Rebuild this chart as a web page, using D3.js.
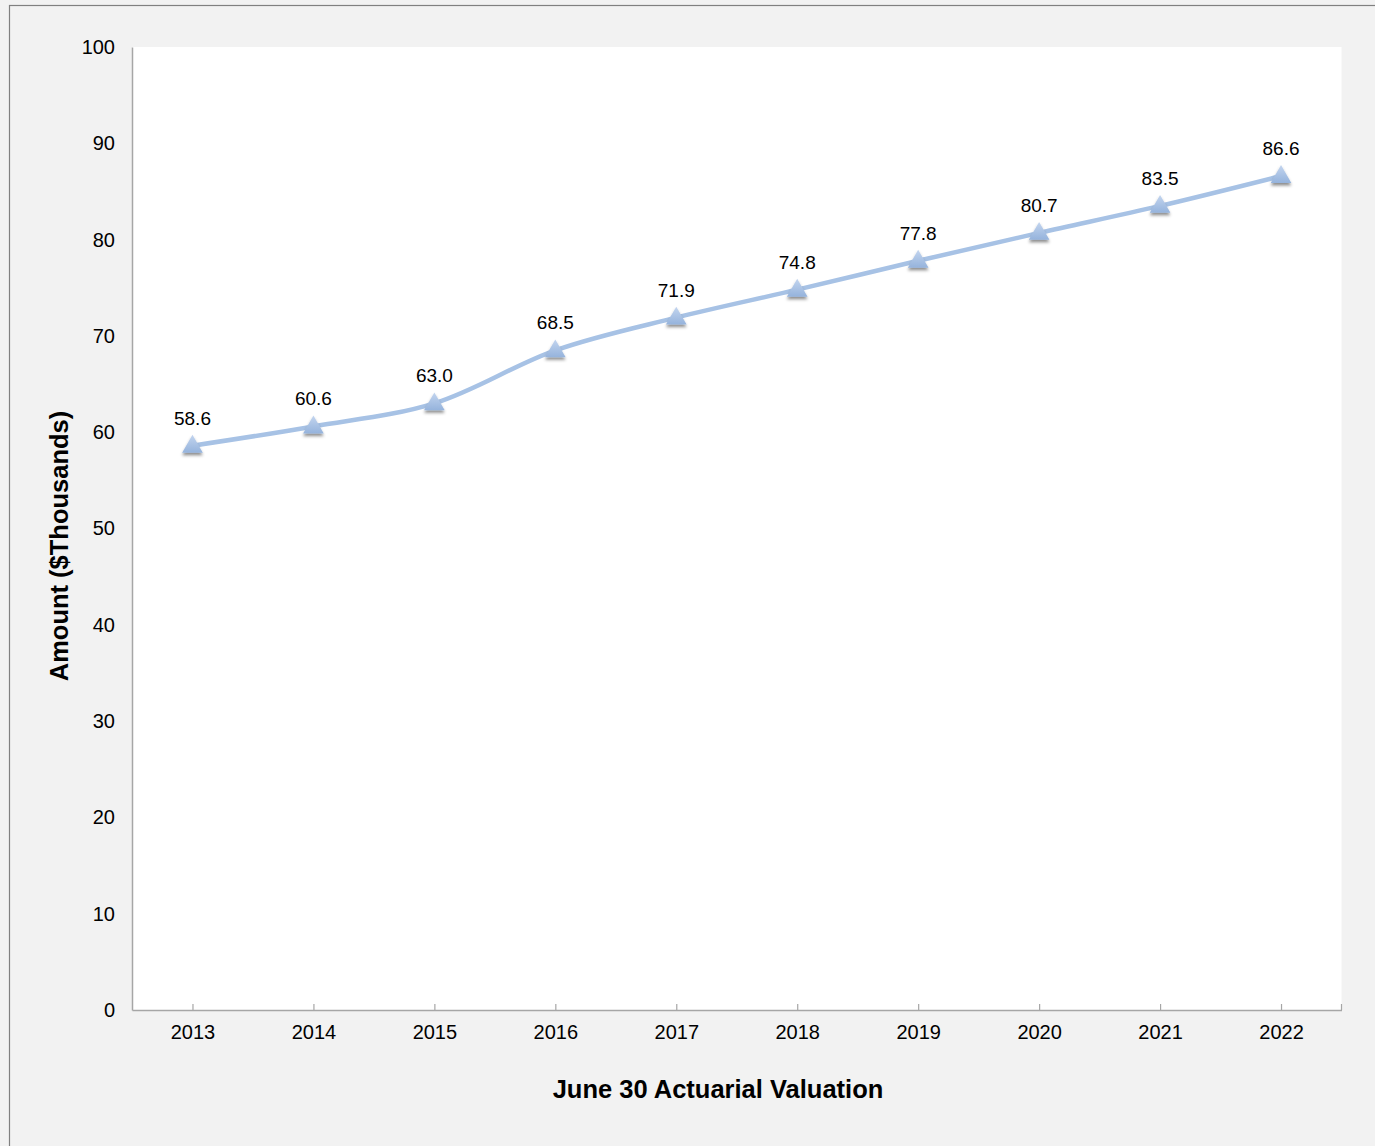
<!DOCTYPE html>
<html><head><meta charset="utf-8">
<script src="https://cdn.jsdelivr.net/npm/d3@7"></script>
<style>body{margin:0;background:#f2f2f2;}svg{display:block;}</style>
</head><body>
<svg id="c" width="1375" height="1146"></svg>
<script>
const years = ["2013","2014","2015","2016","2017","2018","2019","2020","2021","2022"];
const amounts = [58.6, 60.6, 63.0, 68.5, 71.9, 74.8, 77.8, 80.7, 83.5, 86.6];
const yTicks = [0,10,20,30,40,50,60,70,80,90,100];

const svg = d3.select("#c");
const font = "Liberation Sans, Arial, sans-serif";
const L = 132, R = 1341.5, T = 47, B = 1010;

svg.append("rect").attr("x",0).attr("y",0).attr("width",1375).attr("height",1146).attr("fill","#f2f2f2");
svg.append("rect").attr("x",9.5).attr("y",5.5).attr("width",1400).attr("height",1200)
  .attr("fill","none").attr("stroke","#808080").attr("stroke-width",1.2);
svg.append("rect").attr("x",L).attr("y",T).attr("width",R-L).attr("height",B-T).attr("fill","#ffffff");

const defs = svg.append("defs");
const g = defs.append("linearGradient").attr("id","tri").attr("x1",0).attr("y1",0).attr("x2",0).attr("y2",1);
g.append("stop").attr("offset","0%").attr("stop-color","#c3d5ef");
g.append("stop").attr("offset","100%").attr("stop-color","#95b3dc");
const f = defs.append("filter").attr("id","sh").attr("x","-50%").attr("y","-50%").attr("width","200%").attr("height","200%");
f.append("feDropShadow").attr("dx",0).attr("dy",2.5).attr("stdDeviation",1.5).attr("flood-color","#000").attr("flood-opacity",0.45);

const x = d3.scalePoint().domain(years).range([L,R]).padding(0.5);
const y = d3.scaleLinear().domain([0,100]).range([B,T]);

// axes
const ya = svg.append("g").attr("transform",`translate(${L},0)`)
  .call(d3.axisLeft(y).tickValues(yTicks).tickSize(0).tickPadding(17));
ya.select(".domain").attr("stroke","#a6a6a6").attr("stroke-width",1.5);
ya.selectAll("text").attr("font-family",font).attr("font-size",20).attr("fill","#000");

const xa = svg.append("g").attr("transform",`translate(0,${B})`)
  .call(d3.axisBottom(x).tickSizeInner(-6).tickSizeOuter(0).tickPadding(15));
xa.select(".domain").attr("stroke","#a6a6a6").attr("stroke-width",1.5);
xa.selectAll(".tick line").attr("stroke","#a6a6a6").attr("stroke-width",1.2);
xa.selectAll("text").attr("font-family",font).attr("font-size",20).attr("fill","#000").attr("dy","0.71em");
svg.append("line").attr("x1",R).attr("x2",R).attr("y1",B).attr("y2",B-6).attr("stroke","#a6a6a6").attr("stroke-width",1.2);

// line
const line = d3.line().x((d,i)=>x(years[i])).y(d=>y(d)).curve(d3.curveCatmullRom.alpha(0.5));
svg.append("path").datum(amounts).attr("d",line).attr("fill","none")
  .attr("stroke","#a7c2e5").attr("stroke-width",4.5).attr("stroke-linecap","round");

// markers
const tri = d3.symbol().type(d3.symbolTriangle).size(185);
svg.selectAll(".m").data(amounts).join("path")
  .attr("d",tri()).attr("transform",(d,i)=>`translate(${x(years[i])},${y(d)+1})`)
  .attr("fill","url(#tri)").attr("filter","url(#sh)");

// labels
svg.selectAll(".lb").data(amounts).join("text")
  .attr("x",(d,i)=>x(years[i])).attr("y",d=>y(d)-21)
  .attr("text-anchor","middle").attr("font-family",font).attr("font-size",19).attr("fill","#000")
  .text(d=>d.toFixed(1));

// titles
svg.append("text").attr("transform","translate(68,546) rotate(-90)").attr("text-anchor","middle")
  .attr("font-family",font).attr("font-weight","bold").attr("font-size",25.5).text("Amount ($Thousands)");
svg.append("text").attr("x",718).attr("y",1098).attr("text-anchor","middle")
  .attr("font-family",font).attr("font-weight","bold").attr("font-size",25.5).text("June 30 Actuarial Valuation");
</script>
</body></html>
